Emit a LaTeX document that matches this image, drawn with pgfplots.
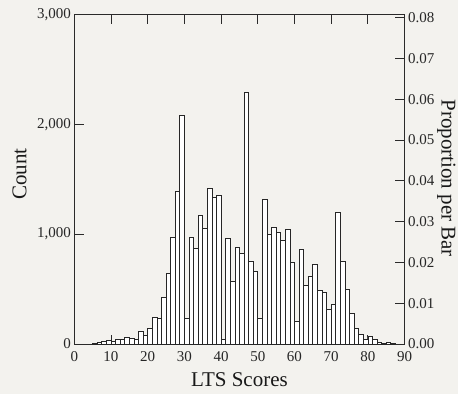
\documentclass[border=0pt]{standalone}
\usepackage{fontspec}
\setmainfont{Liberation Serif}
\usepackage{pgfplots}
\pgfplotsset{compat=1.18}
\definecolor{bg}{HTML}{F3F2EE}
\definecolor{ax}{HTML}{2A2A2A}
\begin{document}
\begin{tikzpicture}
\fill[bg] (-74.3pt,-50pt) rectangle (383.7pt,344pt);
\begin{axis}[
  width=330.3pt, height=329.7pt, scale only axis,
  xmin=0, xmax=90, ymin=0, ymax=3000,
  xtick={0,10,...,90}, ytick={0,1000,2000,3000},
  xtick pos=both, ytick pos=left,
  tick align=inside, major tick length=9.5pt,
  axis line style={ax, line width=0.8pt},
  tick style={ax, line width=0.8pt},
  scaled y ticks=false,
  /pgf/number format/assume math mode=true,
  /pgf/number format/1000 sep={,},
  ticklabel style={font=\fontsize{15}{17}\selectfont, text=black!85},
  xticklabel style={yshift=-4pt},
  label style={font=\fontsize{21}{24}\selectfont, text=black!90},
  xlabel={LTS Scores},
  ylabel={Count},
  xlabel style={at={(axis description cs:0.5,-0.130)}, anchor=base},
  ylabel style={at={(axis description cs:-0.166,0.515)}, anchor=center},
]
\addplot[ybar interval, fill=white, draw=black!85, line width=0.7pt] coordinates {
(5.00,6) (6.25,15) (7.50,24) (8.75,36) (10.00,24) (11.25,45) (12.50,43) (13.75,61)
(15.00,55) (16.25,44) (17.50,115) (18.75,75) (20.00,140) (21.25,243) (22.50,235)
(23.75,425) (25.00,643) (26.25,971) (27.50,1392) (28.75,2081) (30.00,234)
(31.25,971) (32.50,871) (33.75,1168) (35.00,1050) (36.25,1417) (37.50,1332)
(38.75,1350) (40.00,39) (41.25,958) (42.50,567) (43.75,880) (45.00,825)
(46.25,2287) (47.50,749) (48.75,664) (50.00,231) (51.25,1317) (52.50,995)
(53.75,1059) (55.00,1016) (56.25,946) (57.50,1040) (58.75,740) (60.00,209)
(61.25,865) (62.50,534) (63.75,616) (65.00,725) (66.25,491) (67.50,470)
(68.75,319) (70.00,364) (71.25,1195) (72.50,749) (73.75,497) (75.00,276)
(76.25,143) (77.50,88) (78.75,39) (80.00,67) (81.25,39) (82.50,15)
(83.75,9) (85.00,15) (86.25,6) (87.50,6)
};
\end{axis}
\begin{axis}[
  width=330.3pt, height=329.7pt, scale only axis,
  xmin=0, xmax=90, ymin=0, ymax=0.08084,
  axis x line=none, axis y line*=right,
  ytick={0,0.01,...,0.08},
  tick align=inside, major tick length=9.5pt,
  axis line style={ax, line width=0.8pt},
  tick style={ax, line width=0.8pt},
  scaled y ticks=false,
  /pgf/number format/assume math mode=true,
  yticklabel style={/pgf/number format/fixed, /pgf/number format/fixed zerofill, /pgf/number format/precision=2},
  ticklabel style={font=\fontsize{15}{17}\selectfont, text=black!85},
  label style={font=\fontsize{21}{24}\selectfont, text=black!90},
  ylabel={Proportion per Bar},
  ylabel style={at={(axis description cs:1.126,0.503)}, anchor=center, rotate=180, inner sep=0pt},
]
\end{axis}
\pgfresetboundingbox
\path (-74.3pt,-50pt) rectangle (383.7pt,344pt);
\end{tikzpicture}
\end{document}
